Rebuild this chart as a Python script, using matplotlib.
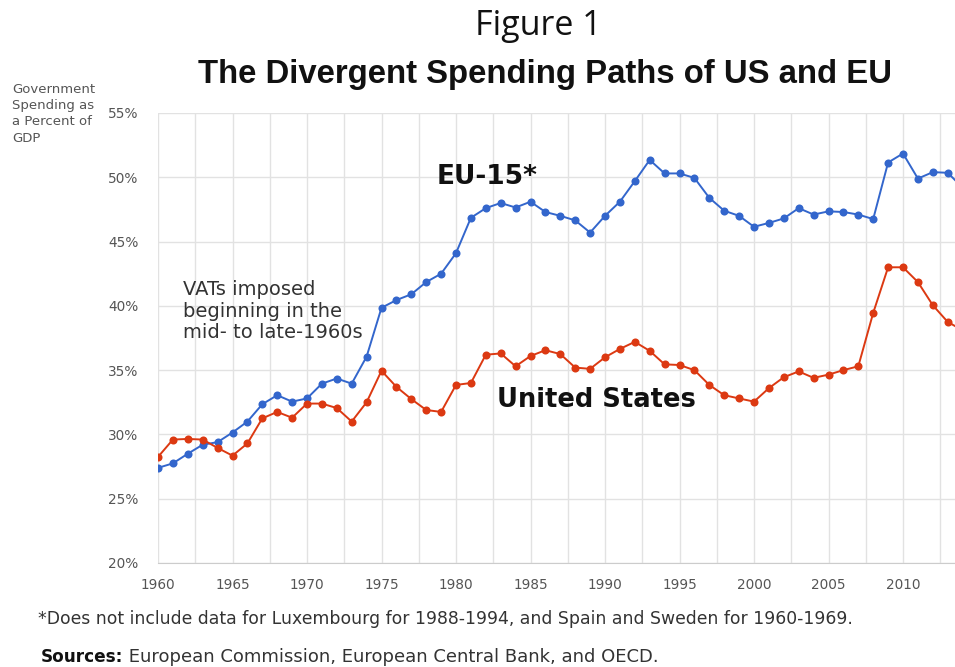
import matplotlib
matplotlib.use("Agg")
import matplotlib.pyplot as plt

W, H = 955, 667

years = list(range(1960, 2015))

eu_15 = [
    27.4, 27.75, 28.5, 29.2, 29.4, 30.15, 31.0, 32.35, 33.05, 32.55,
    32.8, 33.95, 34.35, 33.95, 36.05, 39.85, 40.45, 40.9, 41.85, 42.5,
    44.1, 46.85, 47.6, 48.0, 47.65, 48.1, 47.3, 47.0, 46.65, 45.7,
    47.0, 48.1, 49.7, 51.35, 50.3, 50.3, 49.95, 48.4, 47.4, 47.0,
    46.15, 46.45, 46.8, 47.6, 47.1, 47.35, 47.3, 47.1, 46.75, 51.15,
    51.85, 49.9, 50.4, 50.35, 49.2,
]

united_states = [
    28.25, 29.6, 29.65, 29.6, 28.95, 28.35, 29.3, 31.25, 31.75, 31.3,
    32.4, 32.4, 32.05, 31.0, 32.5, 34.95, 33.7, 32.75, 31.9, 31.75,
    33.85, 34.0, 36.2, 36.3, 35.3, 36.1, 36.55, 36.25, 35.2, 35.1,
    36.0, 36.65, 37.2, 36.5, 35.45, 35.4, 35.0, 33.85, 33.05, 32.8,
    32.55, 33.6, 34.45, 34.9, 34.4, 34.65, 35.0, 35.3, 39.45, 43.0,
    43.0, 41.85, 40.05, 38.75, 38.1,
]

year_ticks = list(range(1960, 2015, 5))
pct_ticks = list(range(20, 56, 5))

BLUE = "#3366cc"
RED = "#dc3912"


def fx(px):
    return px / W


def fy(py):
    return 1 - py / H


fig = plt.figure(figsize=(W / 100, H / 100), dpi=100)
fig.patch.set_facecolor("white")

# plot area: 1960 at x=158, 20% at y=563, 55% at y=113
ax = fig.add_axes([fx(158), fy(563), fx(W - 158), (563 - 113) / H])
ax.set_xlim(1960, 1960 + (W - 158) / 14.9)
ax.set_ylim(20, 55)

ax.plot(years, eu_15, color=BLUE, lw=1.4, marker="o", ms=5.8,
        markeredgewidth=0, zorder=3)
ax.plot(years, united_states, color=RED, lw=1.4, marker="o", ms=5.8,
        markeredgewidth=0, zorder=4)

ax.set_xticks(year_ticks)
ax.set_xticks([y + 2.5 for y in year_ticks], minor=True)
ax.set_yticks(pct_ticks)
ax.set_yticklabels([f"{p}%" for p in pct_ticks])
ax.tick_params(axis="both", which="both", length=0, labelsize=9.8,
               labelcolor="#555555")
ax.tick_params(axis="x", pad=11)
ax.tick_params(axis="y", pad=14)

ax.grid(True, which="both", color="#e2e2e2", lw=1)
ax.grid(False, which="minor", axis="y")
ax.set_axisbelow(True)
for side in ["top", "right", "left"]:
    ax.spines[side].set_visible(False)
ax.spines["bottom"].set_color("#cccccc")

# titles
fig.text(fx(538), fy(26), "Figure 1", ha="center", va="center",
         fontsize=24.5, family="Open Sans", color="#111111")
fig.text(fx(545), fy(74), "The Divergent Spending Paths of US and EU",
         ha="center", va="center", fontsize=23.7, weight="bold",
         family="Liberation Sans", color="#111111")

# axis caption
fig.text(fx(12), fy(83), "Government\nSpending as\na Percent of\nGDP",
         ha="left", va="top", fontsize=9.5, color="#555555",
         linespacing=1.32)

# series labels
fig.text(fx(437), fy(177), "EU-15*", ha="left", va="center",
         fontsize=19, weight="bold", color="#111111")
fig.text(fx(497), fy(400), "United States", ha="left", va="center",
         fontsize=18.5, weight="bold", color="#111111")

fig.text(fx(183), fy(280), "VATs imposed\nbeginning in the\nmid- to late-1960s",
         ha="left", va="top", fontsize=14, color="#333333", linespacing=1.18)

# footnotes
fig.text(fx(38), fy(619),
         "*Does not include data for Luxembourg for 1988-1994, "
         "and Spain and Sweden for 1960-1969.",
         ha="left", va="center", fontsize=12.4, color="#333333")
src = fig.text(fx(41), fy(657), "Sources:", ha="left", va="center",
               fontsize=12.2, weight="bold", color="#111111")
ax.annotate(" European Commission, European Central Bank, and OECD.",
            xy=(1, 0.5), xycoords=src, ha="left", va="center",
            fontsize=13, color="#333333", annotation_clip=False)

fig.savefig("out.png", dpi=100, facecolor="white")
